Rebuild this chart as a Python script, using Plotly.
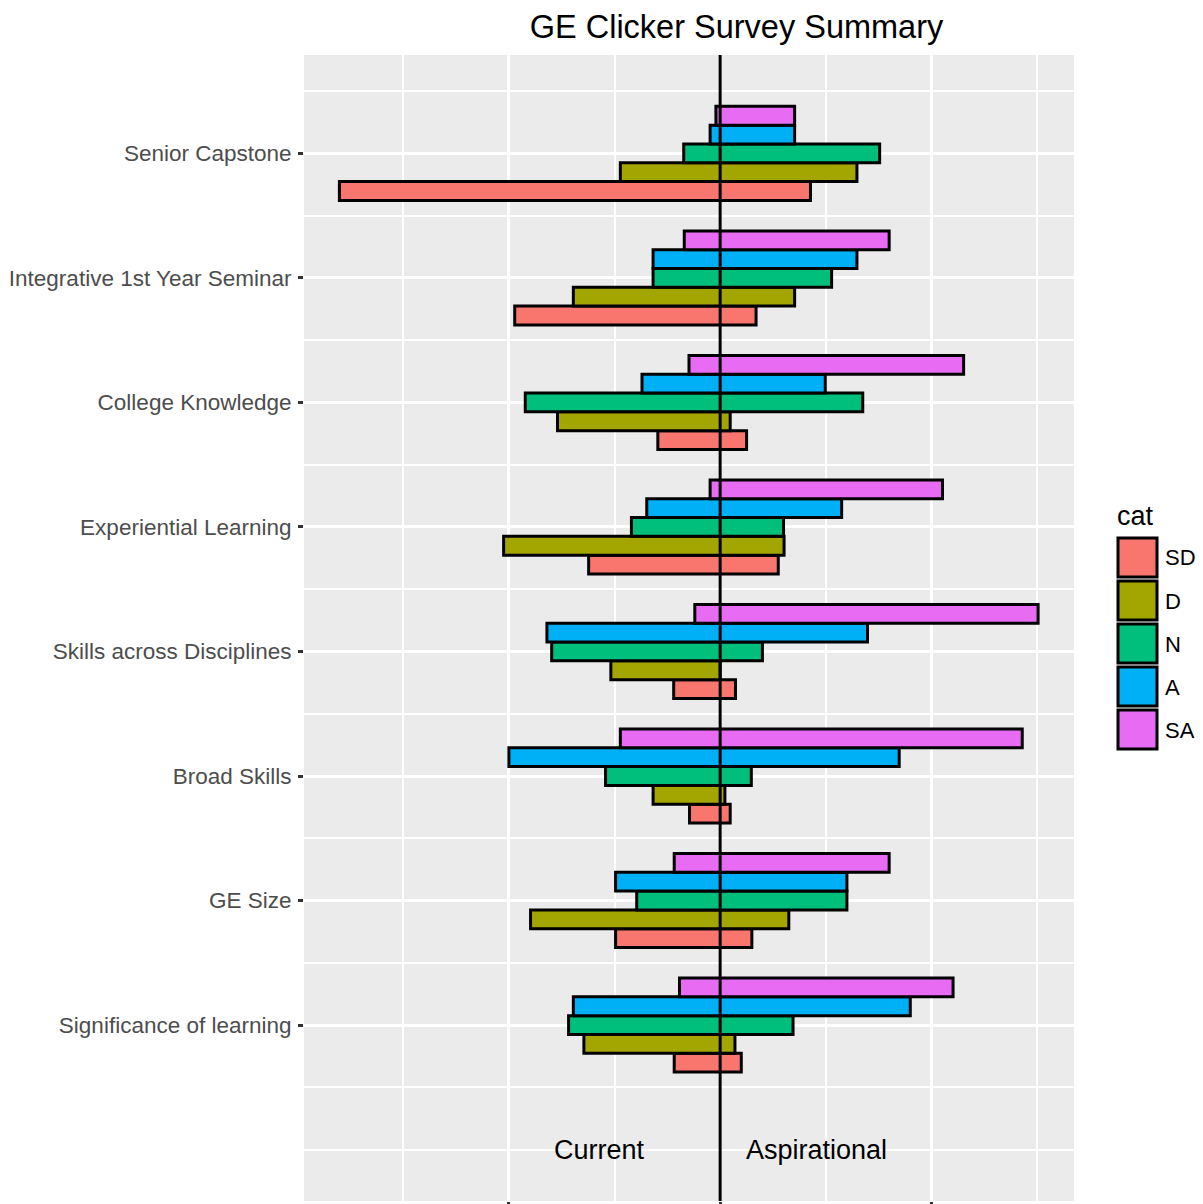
import plotly.graph_objects as go

# ---------------- data ----------------
questions = ["Senior Capstone", "Integrative 1st Year Seminar", "College Knowledge",
             "Experiential Learning", "Skills across Disciplines", "Broad Skills",
             "GE Size", "Significance of learning"]
cats = ["SD", "D", "N", "A", "SA"]
colors = ["#F8766D", "#A3A500", "#00BF7D", "#00B0F6", "#E76BF3"]

# "Current" responses (drawn to the left), percent, in question order
current_SD = [72.1, 38.9, 11.8, 24.9, 8.8, 5.8, 19.8, 8.7]
current_D = [18.9, 27.8, 30.8, 41.0, 20.7, 12.7, 35.9, 25.8]
current_N = [6.9, 12.7, 36.9, 16.8, 31.9, 21.7, 15.8, 28.7]
current_A = [1.9, 12.7, 14.8, 13.9, 32.8, 40.0, 19.8, 27.8]
current_SA = [0.8, 6.8, 5.9, 1.9, 4.8, 18.9, 8.7, 7.7]

# "Aspirational" responses (drawn to the right), percent
asp_SD = [17.1, 6.8, 5.0, 11.0, 2.9, 1.9, 6.0, 4.0]
asp_D = [25.9, 14.1, 1.9, 12.1, 0.0, 0.9, 13.0, 2.8]
asp_N = [30.2, 21.1, 27.0, 12.0, 8.0, 5.9, 24.0, 13.8]
asp_A = [14.1, 25.9, 19.9, 23.0, 27.9, 33.9, 24.0, 36.0]
asp_SA = [14.1, 32.0, 46.1, 42.1, 60.2, 57.2, 32.0, 44.1]

current = [current_SD, current_D, current_N, current_A, current_SA]
aspirational = [asp_SD, asp_D, asp_N, asp_A, asp_SA]

x_ticks = [-40, 0, 40]
side_labels = ["Current", "Aspirational"]

# ---------------- figure ----------------
OFF = 8  # page body margin
W, H = 1203 - OFF, 1204 - OFF
L, T = 304 - OFF, 55 - OFF
R = W - (1074 - OFF)
B = H - (1201 - OFF)
FONT = "Liberation Sans, Arial, sans-serif"

n = len(questions)
ypos = [n - i for i in range(n)]  # Senior Capstone at top

fig = go.Figure()
for cat, col, cur, asp in zip(cats, colors, current, aspirational):
    fig.add_trace(go.Bar(
        name=cat, orientation="h", y=ypos,
        x=[c + a for c, a in zip(cur, asp)],
        base=[-c for c in cur],
        marker=dict(color=col, line=dict(color="black", width=3)),
        showlegend=False,
    ))

fig.add_vline(x=0, line_color="black", line_width=3, layer="above")

fig.add_annotation(x=-22.8, y=0, xref="x", yref="y", text=side_labels[0],
                   showarrow=False, font=dict(family=FONT, size=27, color="black"))
fig.add_annotation(x=18.2, y=0, xref="x", yref="y", text=side_labels[1],
                   showarrow=False, font=dict(family=FONT, size=27, color="black"))

# ----- manual ggplot-style legend (positions given in reference-image pixels) -----
def px(xp):
    return (xp - OFF - L) / (W - L - R)

def py(yp):
    return 1 - (yp - OFF - T) / (H - T - B)

fig.add_annotation(x=px(1115), y=py(516), xref="paper", yref="paper", text="cat",
                   showarrow=False, xanchor="left", yanchor="middle",
                   font=dict(family=FONT, size=27, color="black"))
for i, (cat, col) in enumerate(zip(cats, colors)):
    top = 537 + i * 43
    fig.add_shape(type="rect", xref="paper", yref="paper",
                  x0=px(1118), x1=px(1157), y0=py(top + 1), y1=py(top + 40),
                  fillcolor=col, line=dict(color="black", width=3))
    fig.add_annotation(x=px(1163), y=py(top + 21), xref="paper", yref="paper",
                       text=cat, showarrow=False, xanchor="left", yanchor="middle",
                       font=dict(family=FONT, size=22, color="black"))

fig.update_layout(
    template="none",
    width=W, height=H,
    margin=dict(l=L, r=R, t=T, b=B, autoexpand=False),
    paper_bgcolor="white",
    plot_bgcolor="#EBEBEB",
    barmode="group", bargap=0.245, bargroupgap=0,
    showlegend=False,
    title=dict(text="GE Clicker Survey Summary", x=(736.5 - OFF) / W, xref="container",
               xanchor="center", y=1 - (27 - OFF) / H, yref="container", yanchor="middle",
               font=dict(family=FONT, size=32.5, color="black")),
    font=dict(family=FONT),
)
fig.update_xaxes(
    range=[-78.8, 67.0], tickvals=x_ticks, showticklabels=False,
    ticks="outside", ticklen=4, tickwidth=2.5, tickcolor="#333333",
    showgrid=True, gridcolor="white", gridwidth=3,
    minor=dict(dtick=20, tick0=0, showgrid=True, gridcolor="white", gridwidth=1.5, ticks=""),
    zeroline=False, showline=False, automargin=False,
)
fig.update_yaxes(
    range=[-0.413, 8.79], tickvals=ypos, ticktext=questions,
    ticks="outside", ticklen=5, tickwidth=2.5, tickcolor="#333333",
    tickfont=dict(family=FONT, size=22.5, color="#4D4D4D"),
    ticklabelstandoff=2,
    showgrid=True, gridcolor="white", gridwidth=3,
    minor=dict(dtick=0.5, tick0=0, showgrid=True, gridcolor="white", gridwidth=1.5, ticks=""),
    zeroline=False, showline=False, automargin=False,
)

fig.write_html("out.html")
